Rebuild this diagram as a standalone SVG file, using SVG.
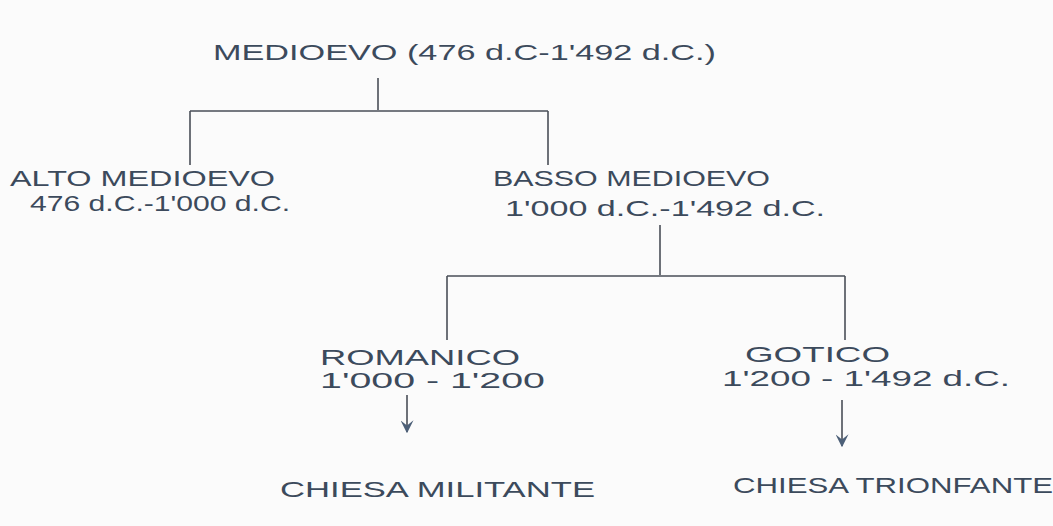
<svg xmlns="http://www.w3.org/2000/svg" width="1053" height="526" viewBox="0 0 1053 526">
<style>
.t{font-family:"Liberation Sans",Arial,sans-serif;font-size:22px;fill:#3c4a5c}
.l{stroke:#4a4f58;stroke-width:1.6;fill:none}
</style>
<defs>
<marker id="ah" viewBox="0 0 10 10" refX="9" refY="5" markerWidth="13" markerHeight="13" markerUnits="userSpaceOnUse" orient="auto">
<path d="M0,0 L4,5 L0,10 L10,5 Z" fill="#4d6078"/>
</marker>
</defs>
<rect width="1053" height="526" fill="#fbfbfb"/>
<g id="connectors">
<path class="l" d="M378,78 V110 M190,111 H548 M190,111 V165 M548,111 V165"/>
<path class="l" d="M660,225 V275 M447,276 H845 M447,276 V340 M845,276 V340"/>
<path class="l" d="M407,395 V432" marker-end="url(#ah)"/>
<path class="l" d="M842,400 V446" marker-end="url(#ah)"/>
</g>
<g id="medioevo"><text class="t" x="213" y="60" textLength="503" lengthAdjust="spacingAndGlyphs">MEDIOEVO (476 d.C-1'492 d.C.)</text></g>
<g id="alto"><text class="t" x="10" y="186" textLength="265" lengthAdjust="spacingAndGlyphs">ALTO MEDIOEVO</text>
<text class="t" x="30" y="211" textLength="260" lengthAdjust="spacingAndGlyphs">476 d.C.-1'000 d.C.</text></g>
<g id="basso"><text class="t" x="493" y="186" textLength="277" lengthAdjust="spacingAndGlyphs">BASSO MEDIOEVO</text>
<text class="t" x="505" y="216" textLength="320" lengthAdjust="spacingAndGlyphs">1'000 d.C.-1'492 d.C.</text></g>
<g id="romanico"><text class="t" x="320" y="365" textLength="200" lengthAdjust="spacingAndGlyphs">ROMANICO</text>
<text class="t" x="320" y="388" textLength="225" lengthAdjust="spacingAndGlyphs">1'000 - 1'200</text></g>
<g id="gotico"><text class="t" x="745" y="362" textLength="145" lengthAdjust="spacingAndGlyphs">GOTICO</text>
<text class="t" x="722" y="386" textLength="288" lengthAdjust="spacingAndGlyphs">1'200 - 1'492 d.C.</text></g>
<g id="militante"><text class="t" x="280" y="497" textLength="315" lengthAdjust="spacingAndGlyphs">CHIESA MILITANTE</text></g>
<g id="trionfante"><text class="t" x="733" y="493" textLength="320" lengthAdjust="spacingAndGlyphs">CHIESA TRIONFANTE</text></g>
</svg>
